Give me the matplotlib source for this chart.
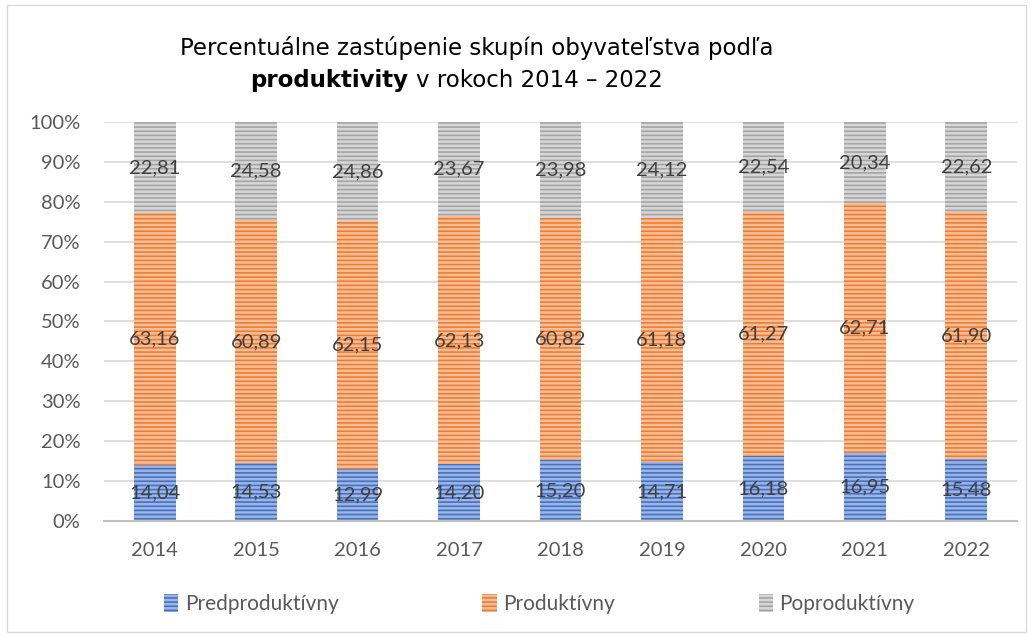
import matplotlib
matplotlib.use("Agg")
import matplotlib.pyplot as plt
from matplotlib.patches import Rectangle, Patch
from matplotlib.ticker import PercentFormatter

plt.rcParams['font.family'] = ['Lato', 'DejaVu Sans']
plt.rcParams['hatch.linewidth'] = 1.2

# data
years = ['2014', '2015', '2016', '2017', '2018', '2019', '2020', '2021', '2022']
predproduktivny = [14.04, 14.53, 12.99, 14.20, 15.20, 14.71, 16.18, 16.95, 15.48]
produktivny = [63.16, 60.89, 62.15, 62.13, 60.82, 61.18, 61.27, 62.71, 61.90]
poproduktivny = [22.81, 24.58, 24.86, 23.67, 23.98, 24.12, 22.54, 20.34, 22.62]
series_names = ['Predproduktívny', 'Produktívny', 'Poproduktívny']

colors = ['#4472C4', '#ED7D31', '#A5A5A5']
light = ['#9DB5E3', '#F6BE98', '#D6D6D6']

fig = plt.figure(figsize=(10.33, 6.37), dpi=100)
ax = fig.add_axes([0.1007, 0.1821, 0.8838, 0.6264])

# stacked 100% bars
series = [predproduktivny, produktivny, poproduktivny]
totals = [a + b + c for a, b, c in zip(*series)]
x = list(range(len(years)))
bottom = [0.0] * len(years)
for i, vals in enumerate(series):
    pct = [v / t * 100 for v, t in zip(vals, totals)]
    ax.bar(x, pct, width=0.41, bottom=bottom, color=light[i],
           edgecolor=colors[i], linewidth=0, hatch='----', zorder=2)
    for xi, b, p, v in zip(x, bottom, pct, vals):
        ax.text(xi, b + p / 2, f"{v:.2f}".replace('.', ','), ha='center',
                va='center', fontsize=14.5, color='#404040', zorder=3)
    bottom = [b + p for b, p in zip(bottom, pct)]

ax.set_xlim(-0.5, len(years) - 0.5)
ax.set_ylim(0, 100)
ax.set_yticks(range(0, 101, 10))
ax.yaxis.set_major_formatter(PercentFormatter(decimals=0))
ax.set_xticks(x)
ax.set_xticklabels(years)
ax.tick_params(axis='both', length=0, labelsize=14.5, labelcolor='#595959')
ax.tick_params(axis='y', pad=17)
ax.tick_params(axis='x', pad=15)
ax.grid(axis='y', color='#D9D9D9', linewidth=1.2, zorder=0)
ax.set_axisbelow(True)
for s in ['top', 'right', 'left']:
    ax.spines[s].set_visible(False)
ax.spines['bottom'].set_color('#BFBFBF')
ax.spines['bottom'].set_linewidth(1.5)

# title (two lines, second line partially bold)
title_font = ['DejaVu Sans']
fig.text(0.462, 0.925, 'Percentuálne zastúpenie skupín obyvateľstva podľa',
         ha='center', va='center', fontsize=16.5, color='#000000', family=title_font)
t1 = fig.text(0.242, 0.874, 'produktivity', ha='left', va='center',
              fontsize=16.5, fontweight='bold', color='#000000', family=title_font)
fig.canvas.draw()
bb = t1.get_window_extent()
fig.text(bb.x1 / fig.bbox.width + 0.008, 0.874, 'v rokoch 2014 – 2022',
         ha='left', va='center', fontsize=16.5, color='#000000', family=title_font)

# legend
handles = [Patch(facecolor=light[i], edgecolor=colors[i], linewidth=0,
                 hatch='----') for i in range(3)]
fig.legend(handles, series_names, loc='center', bbox_to_anchor=(0.522, 0.052),
           ncol=3, frameon=False, fontsize=15, labelcolor='#595959',
           handlelength=0.7, handleheight=1.0, handletextpad=0.3,
           columnspacing=6.9)

# chart area border
fig.patches.append(Rectangle((0.007, 0.008), 0.986, 0.984, transform=fig.transFigure,
                             fill=False, edgecolor='#D9D9D9', linewidth=1))

fig.savefig('out.png', dpi=100)
